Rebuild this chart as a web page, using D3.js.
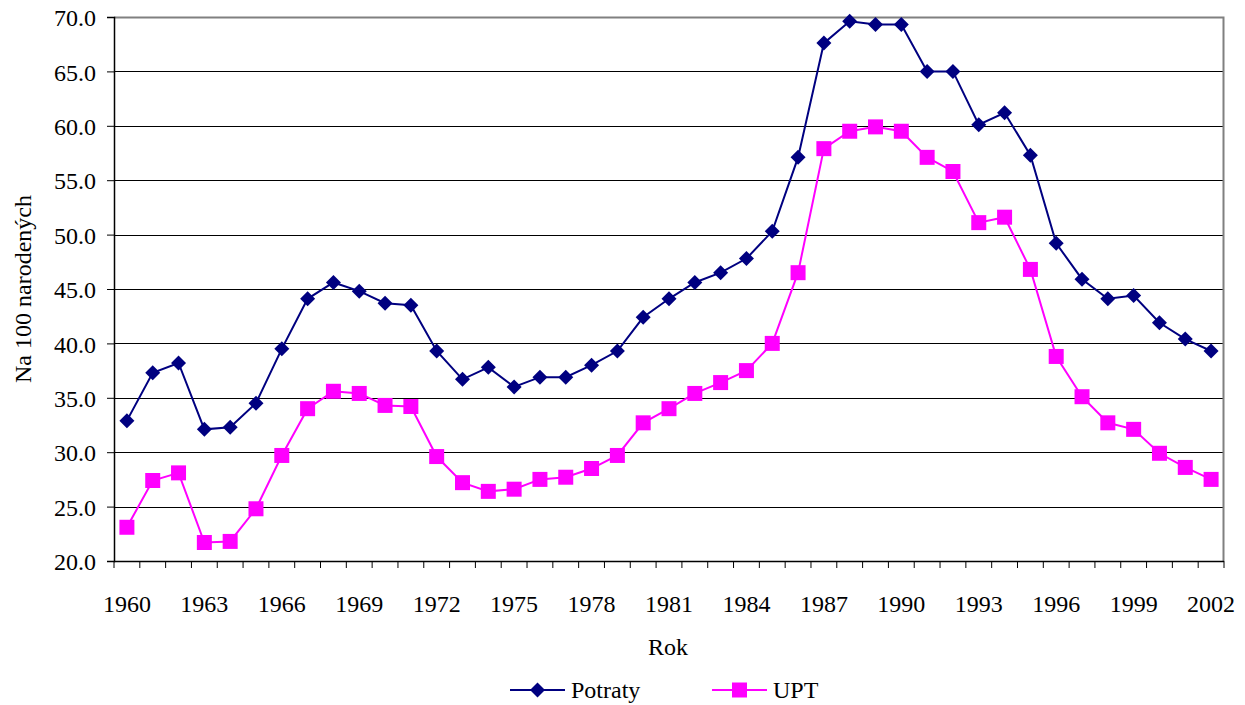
<!DOCTYPE html>
<html>
<head>
<meta charset="utf-8">
<script src="https://cdn.jsdelivr.net/npm/d3@7"></script>
<style>
	body { margin: 0; background: white; }
	#outer { width: 1245px; height: 705px; }
</style>
</head>
<body>
<div id="outer"></div>
<script>
	////////// DATA //////////
	const years = d3.range(1960, 2003);
	const potraty = [32.9, 37.3, 38.2, 32.1, 32.3, 34.5, 39.5, 44.1, 45.6, 44.8, 43.7, 43.5, 39.3, 36.7, 37.8, 36.0, 36.9, 36.9, 38.0, 39.3,
		42.4, 44.1, 45.6, 46.5, 47.8, 50.3, 57.1, 67.6, 69.6, 69.3, 69.3, 65.0, 65.0, 60.1, 61.2, 57.3, 49.2, 45.9, 44.1, 44.4,
		41.9, 40.4, 39.3];
	const upt = [23.1, 27.4, 28.1, 21.7, 21.8, 24.8, 29.7, 34.0, 35.6, 35.4, 34.3, 34.2, 29.6, 27.2, 26.4, 26.6, 27.5, 27.7, 28.5, 29.7,
		32.7, 34.0, 35.4, 36.4, 37.5, 40.0, 46.5, 57.9, 59.5, 59.9, 59.5, 57.1, 55.8, 51.1, 51.6, 46.8, 38.8, 35.1, 32.7, 32.1,
		29.9, 28.6, 27.5];
	const yTicks = [20, 25, 30, 35, 40, 45, 50, 55, 60, 65, 70];
	const xLabelYears = years.filter(y => (y - 1960) % 3 === 0);

	const series = [
		{ name: 'Potraty', values: potraty, color: '#000080', marker: 'diamond' },
		{ name: 'UPT', values: upt, color: '#FF00FF', marker: 'square' }
	];

	////////// SIZING //////////
	const width = 1245, height = 705;
	const margin = { top: 17, left: 114, right: 21, bottom: 144 };
	const plotW = width - margin.left - margin.right;
	const plotH = height - margin.top - margin.bottom;
	const font = "'Liberation Serif', 'DejaVu Serif', 'Times New Roman', serif";
	const fontSize = '24px';

	const svg = d3.select('#outer').append('svg')
		.attr('width', width)
		.attr('height', height)
		.style('font-family', font);

	const g = svg.append('g').attr('transform', `translate(${margin.left},${margin.top})`);

	const x = d3.scaleBand().domain(years).range([0, plotW]);
	const y = d3.scaleLinear().domain([20, 70]).range([plotH, 0]);
	const cx = d => x(d) + x.bandwidth() / 2;

	// grid lines
	g.append('g').selectAll('line')
		.data(yTicks.filter(t => t > 20 && t < 70))
		.join('line')
		.attr('x1', 0).attr('x2', plotW)
		.attr('y1', d => Math.round(y(d)) + 0.5).attr('y2', d => Math.round(y(d)) + 0.5)
		.attr('stroke', 'black').attr('stroke-width', 1);

	// plot border (top/right gray)
	g.append('path')
		.attr('d', `M0,${y(70) + 0.5}H${plotW - 0.5}V${plotH}`)
		.attr('fill', 'none')
		.attr('stroke', '#808080')
		.attr('stroke-width', 2);

	// y axis
	const yAxis = g.append('g')
		.call(d3.axisLeft(y).tickValues(yTicks).tickFormat(d3.format('.1f')).tickSize(7).tickPadding(11));
	yAxis.attr('font-family', font).attr('font-size', fontSize);
	yAxis.select('.domain').attr('stroke', 'black').attr('stroke-width', 1.5);
	yAxis.selectAll('text').attr('dy', '0.36em').attr('fill', 'black');

	// x axis: ticks between categories
	const xAxisG = g.append('g').attr('transform', `translate(0,${plotH})`);
	xAxisG.append('line')
		.attr('x1', 0).attr('x2', plotW).attr('y1', 0.5).attr('y2', 0.5)
		.attr('stroke', 'black').attr('stroke-width', 1.5);
	xAxisG.selectAll('line.tick')
		.data(years.concat([2003]))
		.join('line')
		.attr('class', 'tick')
		.attr('x1', d => d === 2003 ? plotW : x(d)).attr('x2', d => d === 2003 ? plotW : x(d))
		.attr('y1', 0).attr('y2', 7)
		.attr('stroke', 'black');
	xAxisG.selectAll('text')
		.data(xLabelYears)
		.join('text')
		.attr('x', d => cx(d))
		.attr('y', 51)
		.attr('text-anchor', 'middle')
		.attr('font-family', font)
		.attr('font-size', fontSize)
		.text(d => d);

	// axis titles
	svg.append('text')
		.attr('x', 668).attr('y', 655)
		.attr('text-anchor', 'middle')
		.attr('font-family', font)
		.attr('font-size', fontSize)
		.text('Rok');
	svg.append('text')
		.attr('transform', `translate(31,${margin.top + plotH / 2}) rotate(-90)`)
		.attr('text-anchor', 'middle')
		.attr('font-family', font)
		.attr('font-size', fontSize)
		.text('Na 100 narodených');

	// lines and markers
	const line = d3.line().x((d, i) => cx(years[i])).y(d => y(d));
	const diamond = s => `M0,${-s}L${s},0L0,${s}L${-s},0Z`;
	const square = s => `M${-s},${-s}H${s}V${s}H${-s}Z`;
	const markerPath = (m) => m === 'diamond' ? diamond(7.5) : square(7.5);

	series.forEach(s => {
		g.append('path')
			.datum(s.values)
			.attr('d', line)
			.attr('fill', 'none')
			.attr('stroke', s.color)
			.attr('stroke-width', 2);
		g.append('g').selectAll('path')
			.data(s.values)
			.join('path')
			.attr('transform', (d, i) => `translate(${cx(years[i])},${y(d)})`)
			.attr('d', markerPath(s.marker))
			.attr('fill', s.color);
	});

	// legend
	const legend = svg.append('g').attr('transform', 'translate(0,690)');
	const legendX = [510, 712];
	series.forEach((s, i) => {
		const lg = legend.append('g').attr('transform', `translate(${legendX[i]},0)`);
		lg.append('line').attr('x1', 0).attr('x2', 55).attr('y1', 0).attr('y2', 0)
			.attr('stroke', s.color).attr('stroke-width', 2);
		lg.append('path').attr('transform', 'translate(27.5,0)').attr('d', markerPath(s.marker)).attr('fill', s.color);
		lg.append('text').attr('x', 61).attr('y', 0).attr('dy', '0.35em')
			.attr('font-family', font).attr('font-size', fontSize).text(s.name);
	});
</script>
</body>
</html>
